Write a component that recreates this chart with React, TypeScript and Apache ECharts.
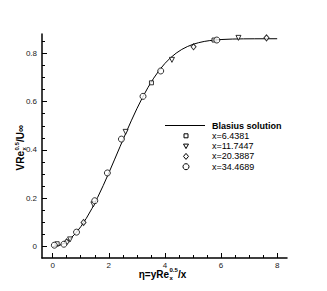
import React, { useEffect, useRef } from "react";
import * as echarts from "echarts";

// Blasius solution V*Re_x^0.5/U_inf vs eta (tabulated)
const etaBlasius = [0, 0.2, 0.4, 0.6, 0.8, 1.0, 1.2, 1.4, 1.6, 1.8, 2.0, 2.2, 2.4, 2.6, 2.8, 3.0, 3.2, 3.4, 3.6, 3.8, 4.0, 4.2, 4.4, 4.6, 4.8, 5.0, 5.2, 5.4, 5.6, 5.8, 6.0, 6.4, 6.8, 7.2, 7.6, 8.0];
const vBlasius = [0, 0.0033, 0.0133, 0.0298, 0.0528, 0.0821, 0.1173, 0.1579, 0.2033, 0.2525, 0.3048, 0.3589, 0.4136, 0.4679, 0.5206, 0.5707, 0.6172, 0.6595, 0.6972, 0.7301, 0.7582, 0.7816, 0.8007, 0.8161, 0.828, 0.8372, 0.8441, 0.8492, 0.8528, 0.8554, 0.8571, 0.8591, 0.8599, 0.8602, 0.8603, 0.8604];

const sqEta = [0.16, 3.52, 5.75];
const sqV = [0.012, 0.678, 0.855];

const triEta = [0.62, 1.45, 2.6, 4.25, 6.62];
const triV = [0.03, 0.175, 0.475, 0.773, 0.864];

const diaEta = [0.5, 1.1, 5.02, 7.62];
const diaV = [0.02, 0.1, 0.827, 0.864];

const cirEta = [0.06, 0.4, 0.85, 1.5, 1.95, 2.45, 3.22, 3.85, 5.85];
const cirV = [0.006, 0.01, 0.06, 0.19, 0.305, 0.445, 0.622, 0.727, 0.855];

const xMajor = [0, 2, 4, 6, 8];
const xMinor = [0.5, 1, 1.5, 2.5, 3, 3.5, 4.5, 5, 5.5, 6.5, 7, 7.5];
const yMajor = [0, 0.2, 0.4, 0.6, 0.8];
const yMinor = [0.05, 0.1, 0.15, 0.25, 0.3, 0.35, 0.45, 0.5, 0.55, 0.65, 0.7, 0.75, 0.85];

const legendNames = ["Blasius solution", "x=6.4381", "x=11.7447", "x=20.3887", "x=34.4689"];

const FONT = "Liberation Sans, Arial, sans-serif";

function zip(a: number[], b: number[]) {
  return a.map((v, i) => [v, b[i]]);
}

function titleGroup(x: number, y: number, rot: number, pre: string, sub: string, sup: string, post: string, a: number) {
  const main = { fontFamily: FONT, fontSize: 10, fontWeight: "bold", fill: "#000" };
  const small = { fontFamily: FONT, fontSize: 6, fontWeight: "bold", fill: "#000" };
  return {
    type: "group",
    x,
    y,
    rotation: rot,
    children: [
      { type: "text", x: a, y: 0, style: { ...main, text: pre, align: "right", verticalAlign: "middle" } },
      { type: "text", x: a + 0.5, y: -4, style: { ...small, text: sup, align: "left", verticalAlign: "middle" } },
      { type: "text", x: a + 0.5, y: 3.5, style: { ...small, text: sub, align: "left", verticalAlign: "middle" } },
      { type: "text", x: a + 9, y: 0, style: { ...main, text: post, align: "left", verticalAlign: "middle" } },
    ],
  };
}

export default function App() {
  const ref = useRef<HTMLDivElement>(null);
  useEffect(() => {
    document.body.style.margin = "0";
    const chart = echarts.init(ref.current!, null, { renderer: "svg" });
    const xMin = -0.38, xMax = 8.35, yMin = -0.047, yMax = 0.88;
    const mk = { color: "#fff", borderColor: "#000", borderWidth: 1 };
    const legX = 186, legY0 = 125.5, legDy = 10.3;
    const legStyle = { fill: "#fff", stroke: "#000", lineWidth: 1 };
    const legendGraphics: any[] = [
      { type: "line", shape: { x1: 165, y1: legY0, x2: 205, y2: legY0 }, style: { stroke: "#000", lineWidth: 1 } },
      { type: "rect", shape: { x: legX - 2, y: legY0 + legDy - 2, width: 4, height: 4 }, style: legStyle },
      { type: "polygon", shape: { points: [[legX - 2.5, legY0 + 2 * legDy - 2], [legX + 2.5, legY0 + 2 * legDy - 2], [legX, legY0 + 2 * legDy + 2.5]] }, style: legStyle },
      { type: "polygon", shape: { points: [[legX, legY0 + 3 * legDy - 3], [legX + 2.5, legY0 + 3 * legDy], [legX, legY0 + 3 * legDy + 3], [legX - 2.5, legY0 + 3 * legDy]] }, style: legStyle },
      { type: "circle", shape: { cx: legX, cy: legY0 + 4 * legDy, r: 3 }, style: legStyle },
      ...legendNames.map((n, i) => ({
        type: "text",
        x: 212,
        y: legY0 + i * legDy,
        style: { text: n, fontFamily: FONT, fontSize: 9, fontWeight: i === 0 ? "bold" : "normal", fill: "#000", align: "left", verticalAlign: "middle" },
      })),
    ];
    chart.setOption({
      animation: false,
      backgroundColor: "#fff",
      grid: { left: 42, right: 40, top: 34, bottom: 33 },
      xAxis: [
        {
          type: "value", min: xMin, max: xMax,
          axisLine: { show: true, onZero: false, lineStyle: { color: "#000", width: 1.5 } },
          axisTick: { show: true, inside: true, length: 5, customValues: xMajor, lineStyle: { color: "#000", width: 1 } },
          axisLabel: { customValues: xMajor, color: "#222", fontFamily: FONT, fontSize: 8, margin: 3 },
          splitLine: { show: false },
        },
        {
          type: "value", min: xMin, max: xMax, position: "bottom",
          axisLine: { show: false, onZero: false },
          axisTick: { show: true, inside: true, length: 3, customValues: xMinor, lineStyle: { color: "#000", width: 1 } },
          axisLabel: { show: false },
          splitLine: { show: false },
        },
      ],
      yAxis: [
        {
          type: "value", min: yMin, max: yMax,
          axisLine: { show: true, onZero: false, lineStyle: { color: "#000", width: 1.5 } },
          axisTick: { show: true, inside: true, length: 5, customValues: yMajor, lineStyle: { color: "#000", width: 1 } },
          axisLabel: { customValues: yMajor, color: "#222", fontFamily: FONT, fontSize: 8, margin: 5 },
          splitLine: { show: false },
        },
        {
          type: "value", min: yMin, max: yMax, position: "left",
          axisLine: { show: false, onZero: false },
          axisTick: { show: true, inside: true, length: 3, customValues: yMinor, lineStyle: { color: "#000", width: 1 } },
          axisLabel: { show: false },
          splitLine: { show: false },
        },
      ],
      series: [
        {
          type: "line", name: legendNames[0], data: zip(etaBlasius, vBlasius), smooth: false,
          showSymbol: false, lineStyle: { color: "#000", width: 1 }, z: 2,
        },
        { type: "scatter", name: legendNames[1], data: zip(sqEta, sqV), symbol: "rect", symbolSize: 4, itemStyle: mk, z: 3 },
        { type: "scatter", name: legendNames[2], data: zip(triEta, triV), symbol: "triangle", symbolRotate: 180, symbolSize: 5, itemStyle: mk, z: 3 },
        { type: "scatter", name: legendNames[3], data: zip(diaEta, diaV), symbol: "diamond", symbolSize: [5, 6], itemStyle: mk, z: 3 },
        { type: "scatter", name: legendNames[4], data: zip(cirEta, cirV), symbol: "circle", symbolSize: 6, itemStyle: mk, z: 4 },
      ],
      graphic: [
        ...legendGraphics,
        titleGroup(141 + 28, 274, 0, "η=yRe", "x", "0.5", "/x", 0),
        titleGroup(20.5, 171 - 20, Math.PI / 2, "VRe", "x", "0.5", "/U∞", 0),
      ],
    });
    return () => chart.dispose();
  }, []);
  return <div ref={ref} style={{ width: 327, height: 291 }} />;
}
